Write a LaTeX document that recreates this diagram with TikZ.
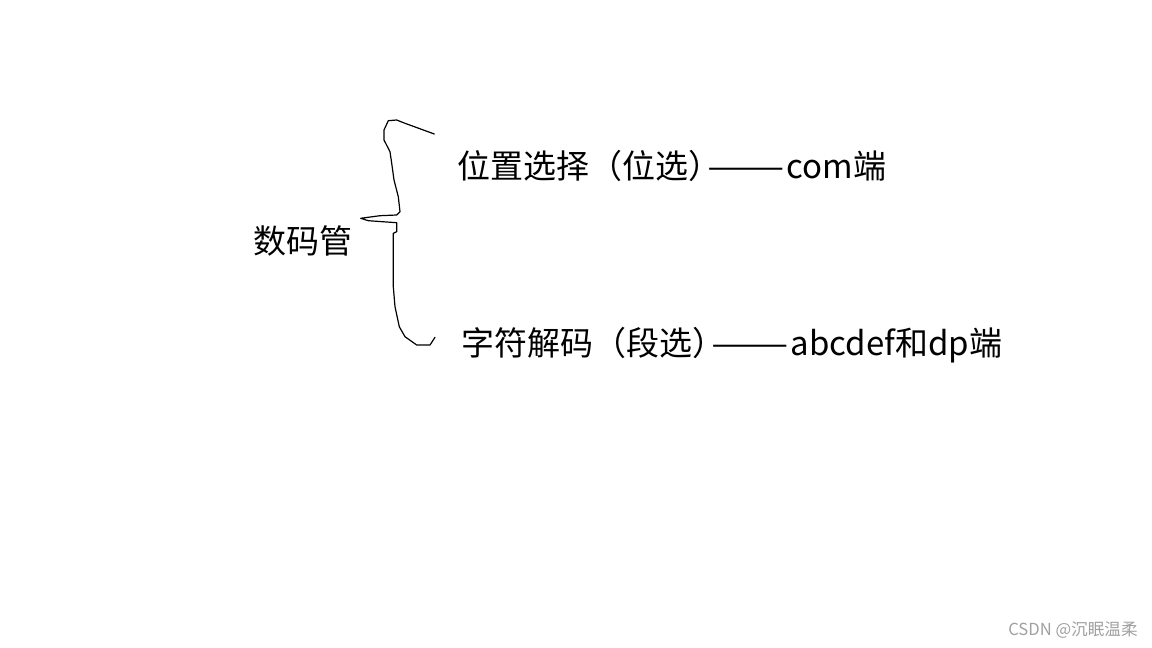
\documentclass[tikz,border=0pt]{standalone}
\usepackage{xcolor}
\usepackage{graphicx}
\usepackage{fontspec}
\setmainfont{Noto Sans CJK SC}
\newfontfamily\cjkfont{Noto Sans CJK SC}
\usepackage{tikz}
\usetikzlibrary{positioning}
\definecolor{segInk}{HTML}{000000}
\definecolor{segMark}{HTML}{A0A0A0}
\newcommand{\longdash}{\hspace{-0.42em}\scalebox{1.4}[1]{——}\hspace{0.05em}}
\tikzset{
  termLabel/.style={
    anchor=west,
    inner sep=0pt,
    text=segInk,
    font=\cjkfont\fontsize{16.5pt}{19pt}\selectfont
  },
  handBrace/.style={
    draw=segInk,
    line width=0.6pt,
    line join=round,
    line cap=round
  },
  markLabel/.style={
    anchor=east,
    inner sep=0pt,
    text=segMark,
    font=\cjkfont\fontsize{8.3pt}{10pt}\selectfont
  }
}
\begin{document}
\begin{tikzpicture}[x=0.5pt,y=-0.5pt]
  \useasboundingbox (0,0) rectangle (1152,648);
  \node[termLabel] (tube) at (253,241) {数码管};
  \node[termLabel] (digit) at (457,166) {位置选择（位选）\longdash com端};
  \node[termLabel] (segment) at (461,345) {字符解码（段选）\longdash abcdef和dp端};
  % hand drawn brace
  \draw[handBrace] (434.3,134) -- (405,123.3) -- (396.7,120) -- (388.3,120.7)
    -- (384,130) -- (384,140) -- (390,151.7) -- (391.7,163.3) -- (394,180)
    -- (398.3,196.7) -- (400,211.7) -- (396.7,215) -- (380,215.7)
    -- (360.7,218.3) -- (368.3,220.7) -- (396.7,222.7) -- (396.7,231.7)
    -- (393.3,233.3) -- (393.3,286.7) -- (395,306.7) -- (399.3,326.7)
    -- (405,336.7) -- (416.7,345) -- (430,345) -- (435,337.3);
  \node[markLabel] (mark) at (1138,630) {CSDN @沉眠温柔};
\end{tikzpicture}
\end{document}
